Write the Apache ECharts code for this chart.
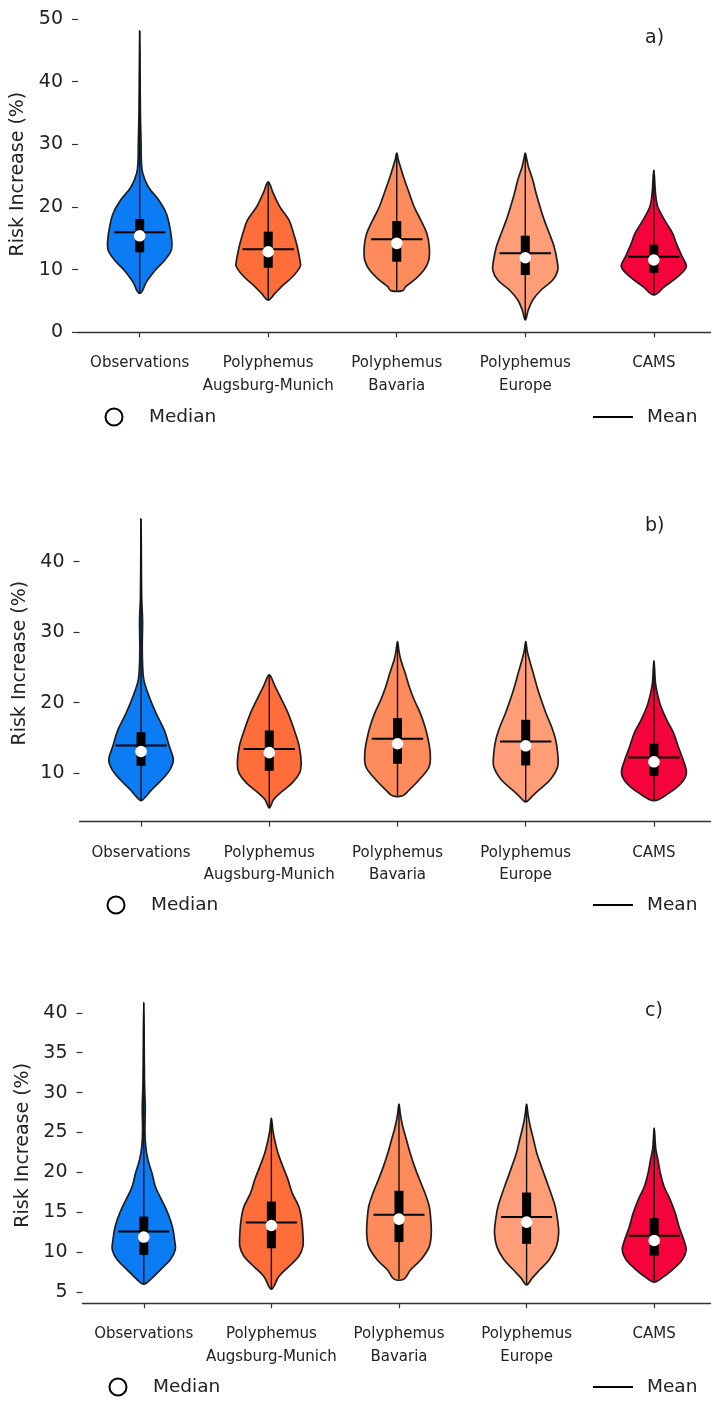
<!DOCTYPE html>
<html>
<head>
<meta charset="utf-8">
<script src="https://cdn.jsdelivr.net/npm/echarts@6.0.0/dist/echarts.min.js"></script>
<style>
html,body{margin:0;padding:0;background:#fff;}
#chart{width:711px;height:1401px;}
</style>
</head>
<body>
<div id="chart"></div>
<script>
// ---------- DATA ----------
const categories = ['Observations', 'Polyphemus\nAugsburg-Munich', 'Polyphemus\nBavaria', 'Polyphemus\nEurope', 'CAMS'];
const panelLabels = ['a)', 'b)', 'c)'];
const yTicksA = [0, 10, 20, 30, 40, 50];
const yTicksB = [10, 20, 30, 40];
const yTicksC = [5, 10, 15, 20, 25, 30, 35, 40];

// violin outlines: [value, relative density half-width]
const obsA  = [[6.2,0],[6.7,3],[7.5,5],[8.3,7.8],[9.9,15.5],[11.5,25],[13.1,31.5],[14.7,32],[16.85,30],[19.0,26.5],[21.1,19],[23.2,8.7],[25.4,3],[27.5,1.6],[30,1.4],[35,0.7],[48.1,0]];
const amA   = [[5.15,0],[6.2,6.7],[7.3,13.3],[8.9,24.5],[10.5,32],[11.5,31.7],[13.7,29],[15.8,25.3],[17.9,20.8],[20.0,11.7],[22.2,5],[24.0,0]];
const bavA  = [[6.65,6],[7.3,9],[8.35,17.5],[9.9,27],[11.5,32],[13.7,32.5],[15.8,30],[17.9,24],[20.0,17.5],[22.2,12.5],[24.3,7.8],[26.4,3.7],[27.5,1.6],[28.6,0]];
const eurA  = [[1.96,0],[3.56,3],[5.15,7.5],[6.75,15.8],[8.35,27.5],[9.9,32.5],[11.5,31.7],[13.7,28.8],[15.8,24],[17.9,19],[20.0,14.8],[22.2,10.8],[24.3,7.5],[26.4,3.2],[27.5,1.6],[28.6,0]];
const camsA = [[5.95,0],[7.3,10.8],[8.87,24],[10.5,32.5],[12.07,28.3],[14.2,22.5],[15.8,18.8],[17.9,10.8],[20.0,4],[21.1,2.5],[22.5,1.5],[25.9,0]];

const obsB  = [[6.1,0],[6.7,5],[7.6,10.5],[9.05,20.8],[10.5,29],[11.9,32.3],[13.8,28.3],[16.1,23.3],[18.5,15],[20.9,8],[23.2,2.8],[25.1,1.6],[28,1.2],[31.7,1.5],[35,0.6],[46.07,0]];
const amB   = [[5.04,0],[6.2,4.2],[7.16,10.8],[8.6,23],[10.0,30.3],[11.4,32],[13.8,30],[16.1,25],[18.5,18.8],[20.4,12.5],[22.3,5.8],[23.95,0]];
const bavB  = [[6.78,5],[7.6,11.7],[9.05,21.7],[10.9,31.7],[12.8,32.8],[14.7,30.8],[16.6,27.5],[18.5,22.8],[20.4,16.7],[22.3,11.7],[24.2,7.7],[26.07,3.3],[27.3,1.5],[28.67,0]];
const eurB  = [[5.9,0],[6.7,6.3],[7.6,13.3],[9.05,24.5],[10.9,32],[12.8,32],[14.7,30],[16.6,25.8],[18.5,20.3],[20.4,15.5],[22.3,11.2],[24.2,7.5],[26.07,3.7],[27.3,1.5],[28.67,0]];
const camsB = [[6.1,0],[7.16,15],[8.6,27.5],[10.0,32.5],[11.9,29.2],[13.8,24.2],[15.67,19.7],[17.56,12.8],[19.45,7],[21.35,3.3],[22.8,1.5],[25.93,0]];

const obsC  = [[6.0,0],[6.75,8.3],[7.8,16.7],[9.05,26.7],[10.3,31.7],[11.55,31],[13.2,28.8],[14.9,24.2],[16.6,17.8],[18.2,11.7],[19.9,8.3],[21.6,4.2],[23.25,2],[25,1.2],[28.3,1.5],[31,0.8],[41.3,0]];
const amC   = [[5.38,0],[6.95,7.5],[8.2,17.5],[9.46,27.5],[10.7,31.7],[12.4,31.7],[14.06,30.5],[15.7,27.7],[17.4,21],[19.1,16.7],[20.7,11.7],[22.4,6.7],[24.1,3.3],[25.3,1.5],[26.8,0]];
const bavC  = [[6.63,5],[7.8,11.7],[9.05,22],[10.7,30.5],[12.4,32.5],[14.06,32],[15.73,30.5],[17.4,26.2],[19.07,20.8],[20.7,15.8],[22.4,11.3],[24.1,7.5],[25.75,3.8],[27.2,1.5],[28.56,0]];
const eurC  = [[5.9,0],[6.75,5.5],[7.8,13.3],[9.05,22.7],[10.7,30],[12.4,32.3],[14.06,31.2],[15.73,28.8],[17.4,24.5],[19.07,19.7],[20.7,15],[22.4,10.3],[24.1,7],[25.75,3.7],[27.2,1.5],[28.56,0]];
const camsC = [[6.25,0],[6.75,7.5],[7.8,18.3],[9.05,28.3],[10.3,32.2],[11.55,29.7],[13.2,25],[14.9,21.2],[16.6,16],[18.2,10],[19.9,6.2],[21.6,3.7],[23,1.5],[25.55,0]];

// summary statistics per category
const minA = [6.2, 5.15, 6.65, 1.96, 5.95];
const maxA = [48.1, 24.0, 28.6, 28.6, 25.9];
const q1A  = [12.77, 10.3, 11.27, 9.14, 9.5];
const q3A  = [18.08, 16.06, 17.76, 15.42, 14.0];
const medianA = [15.4, 12.86, 14.2, 11.9, 11.54];
const meanA   = [15.96, 13.25, 14.84, 12.6, 12.07];

const minB = [6.1, 5.04, 6.78, 5.9, 6.1];
const maxB = [46.07, 23.95, 28.67, 28.67, 25.93];
const q1B  = [11.04, 10.33, 11.32, 11.08, 9.62];
const q3B  = [15.8, 16.05, 17.8, 17.56, 14.16];
const medianB = [13.07, 12.9, 14.16, 13.87, 11.6];
const meanB   = [13.9, 13.4, 14.87, 14.48, 12.2];

const minC = [6.0, 5.38, 6.63, 5.9, 6.25];
const maxC = [41.3, 26.8, 28.56, 28.56, 25.55];
const q1C  = [9.67, 10.5, 11.27, 11.05, 9.59];
const q3C  = [14.47, 16.35, 17.7, 17.48, 14.27];
const medianC = [11.9, 13.35, 14.15, 13.77, 11.47];
const meanC   = [12.6, 13.72, 14.69, 14.4, 12.05];

// ---------- STYLE / LAYOUT ----------
const violinColors = ['#0b7cf4', '#ff6d3b', '#fd8b5c', '#fe9d78', '#f5033b'];
const FONT = 'DejaVu Sans';
const DENS = 1 / 128.5;      // density units -> fraction of category spacing
const MEAN_HALF = 0.2;       // fraction of category spacing
const BOX_W = 9;
const MED_R = 5.8;

const panels = [
  { profiles: [obsA, amA, bavA, eurA, camsA], min: minA, max: maxA, q1: q1A, q3: q3A, med: medianA, mean: meanA,
    ticks: yTicksA, ymin: 0, ymax: 50.5, left: 78, top: 15.9, height: 316.4, legendY: 417, legendX: 114, labelTop: 29 },
  { profiles: [obsB, amB, bavB, eurB, camsB], min: minB, max: maxB, q1: q1B, q3: q3B, med: medianB, mean: meanB,
    ticks: yTicksB, ymin: 3.1, ymax: 48.1, left: 79.5, top: 504.6, height: 317.1, legendY: 905, legendX: 116, labelTop: 517 },
  { profiles: [obsC, amC, bavC, eurC, camsC], min: minC, max: maxC, q1: q1C, q3: q3C, med: medianC, mean: meanC,
    ticks: yTicksC, ymin: 3.6, ymax: 43.2, left: 82.5, top: 987.3, height: 316, legendY: 1387, legendX: 118, labelTop: 1002 }
];

const grids = [], xAxes = [], yAxes = [], series = [], titles = [], graphics = [];

panels.forEach((P, p) => {
  grids.push({ left: P.left, right: 0, top: P.top, height: P.height, containLabel: false });
  xAxes.push({
    type: 'value', gridIndex: p, min: -0.48, max: 4.445,
    axisLine: { show: true, onZero: false, lineStyle: { color: '#333', width: 1.3 } },
    axisTick: { show: true, customValues: [0, 1, 2, 3, 4], length: 5, lineStyle: { color: '#333', width: 1.2 } },
    axisLabel: { show: true, customValues: [0, 1, 2, 3, 4], formatter: v => categories[Math.round(v)],
      fontFamily: FONT, fontSize: 15, lineHeight: 22.5, color: '#222', margin: 20 },
    splitLine: { show: false }
  });
  yAxes.push({
    type: 'value', gridIndex: p, min: P.ymin, max: P.ymax,
    name: 'Risk Increase (%)', nameLocation: 'middle', nameRotate: 90, nameGap: 43,
    nameTextStyle: { fontFamily: FONT, fontSize: 19, color: '#222' },
    axisLine: { show: false, onZero: false },
    axisTick: { show: true, customValues: P.ticks, length: 6, lineStyle: { color: '#333', width: 1.2 } },
    axisLabel: { show: true, customValues: P.ticks, fontFamily: FONT, fontSize: 19, color: '#222', margin: 15 },
    splitLine: { show: false }
  });
  series.push({
    type: 'custom', xAxisIndex: p, yAxisIndex: p, silent: true,
    data: categories.map((c, i) => [i, P.med[i]]),
    encode: { x: 0, y: 1 },
    renderItem: function (params, api) {
      const i = api.value(0);
      const unit = api.size([1, 0])[0];
      const prof = P.profiles[i];
      const right = prof.map(([v, d]) => { const c = api.coord([i, v]); return [c[0] + d * DENS * unit, c[1]]; });
      const leftPts = [];
      for (let k = prof.length - 1; k >= 0; k--) {
        const [v, d] = prof[k];
        if (d === 0) continue;
        const c = api.coord([i, v]);
        leftPts.push([c[0] - d * DENS * unit, c[1]]);
      }
      const pts = right.concat(leftPts);
      const cx = api.coord([i, 0])[0];
      const yMin = api.coord([i, P.min[i]])[1];
      const yMax = api.coord([i, P.max[i]])[1];
      const yQ1 = api.coord([i, P.q1[i]])[1];
      const yQ3 = api.coord([i, P.q3[i]])[1];
      const yMed = api.coord([i, P.med[i]])[1];
      const yMean = api.coord([i, P.mean[i]])[1];
      return {
        type: 'group',
        children: [
          { type: 'polygon', shape: { points: pts, smooth: 0.35 },
            style: { fill: violinColors[i], stroke: '#1e1e1e', lineWidth: 1.7 } },
          { type: 'line', shape: { x1: cx, y1: yMin, x2: cx, y2: yMax },
            style: { stroke: '#111', lineWidth: 1.4 } },
          { type: 'rect', shape: { x: cx - BOX_W / 2, y: yQ3, width: BOX_W, height: yQ1 - yQ3 },
            style: { fill: '#000' } },
          { type: 'line', shape: { x1: cx - MEAN_HALF * unit, y1: yMean, x2: cx + MEAN_HALF * unit, y2: yMean },
            style: { stroke: '#000', lineWidth: 2 } },
          { type: 'circle', shape: { cx: cx, cy: yMed, r: MED_R },
            style: { fill: '#fff', stroke: null } }
        ]
      };
    }
  });
  titles.push({ text: panelLabels[p], left: 645, top: P.labelTop, padding: 0,
    textStyle: { fontFamily: FONT, fontSize: 19, fontWeight: 'normal', color: '#222' } });
  // legend row
  graphics.push(
    { type: 'circle', shape: { cx: P.legendX, cy: P.legendY, r: 8.5 }, style: { fill: '#fff', stroke: '#000', lineWidth: 2 } },
    { type: 'text', x: P.legendX + 35, y: P.legendY, style: { text: 'Median', fontFamily: FONT, fontSize: 18.5, fill: '#222', verticalAlign: 'middle' } },
    { type: 'line', shape: { x1: 593, y1: P.legendY, x2: 633, y2: P.legendY }, style: { stroke: '#000', lineWidth: 2 } },
    { type: 'text', x: 647, y: P.legendY, style: { text: 'Mean', fontFamily: FONT, fontSize: 18.5, fill: '#222', verticalAlign: 'middle' } }
  );
});

const chart = echarts.init(document.getElementById('chart'), null, { renderer: 'canvas' });
chart.setOption({
  backgroundColor: '#fff',
  animation: false,
  title: titles,
  grid: grids,
  xAxis: xAxes,
  yAxis: yAxes,
  series: series,
  graphic: graphics
});
</script>
</body>
</html>
